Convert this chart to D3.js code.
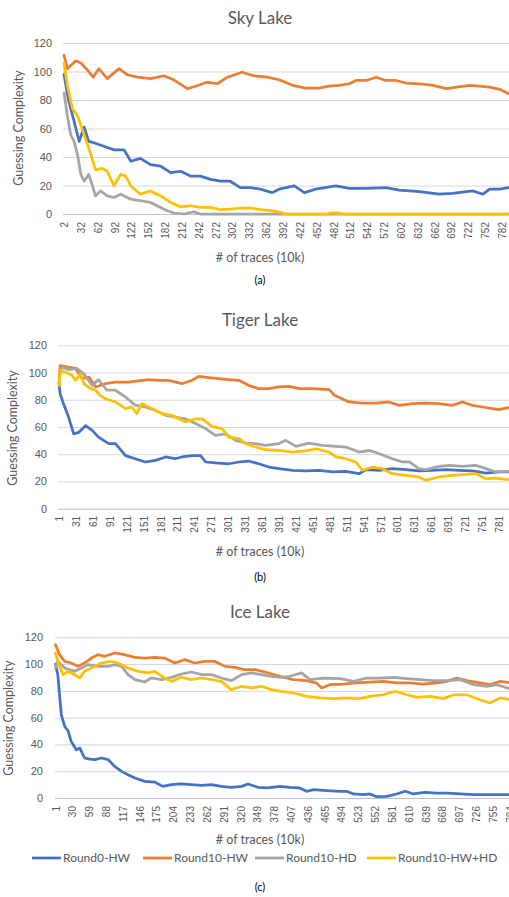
<!DOCTYPE html>
<html>
<head>
<meta charset="utf-8">
<script src="https://cdn.jsdelivr.net/npm/d3@7"></script>
<style>
  body { margin: 0; background: #fff; }
  svg { display: block; font-family: Lato, "Open Sans", sans-serif; }
</style>
</head>
<body>
<script>
// series names and colours
const seriesNames = ['Round0-HW', 'Round10-HW', 'Round10-HD', 'Round10-HW+HD'];
const seriesColors = ['#4472C4', '#ED7D31', '#A5A5A5', '#FFC000'];
const yTicks = [0, 20, 40, 60, 80, 100, 120];

// x tick labels (# of traces, 10k)
const skyTicks = d3.range(2, 783, 30);
const tigerTicks = d3.range(1, 782, 30);
const iceTicks = d3.range(1, 785, 29);

// Sky Lake: [trace, guessing complexity]
const skyRound0HW = [[2, 98], [10, 80], [20, 65], [29, 51], [38, 61], [46, 51], [55, 50], [73, 47.5], [91, 45], [109, 45], [121, 37], [138, 39], [156, 34.7], [174, 33.6], [192, 29], [210, 30], [227, 26.6], [245, 26.6], [263, 24.3], [281, 23], [298, 23], [316, 18.5], [334, 18.5], [352, 17.4], [373, 15], [385, 17.4], [412, 19.7], [430, 15], [450, 17.4], [486, 19.7], [510, 18], [540, 18], [575, 18.5], [599, 16.7], [635, 15.7], [670, 13.9], [694, 14.4], [730, 16.2], [748, 13.9], [760, 17.4], [778, 17.4], [793, 18.5]];
const skyRound10HW = [[2, 111.5], [8, 102], [23, 107.6], [32, 106], [44, 101], [54, 96], [64, 102], [79, 95], [100, 102], [115, 97.7], [133, 96], [156, 95], [180, 97], [198, 94], [222, 88], [239, 90], [257, 92.6], [275, 91.4], [293, 96], [319, 99.5], [340, 97], [364, 96], [385, 94.2], [409, 90.3], [432, 88.4], [456, 88.4], [474, 89.8], [492, 90.3], [510, 91.4], [522, 93.7], [540, 93.7], [558, 96], [575, 93.7], [593, 93.7], [611, 91.9], [635, 91.4], [659, 90.3], [683, 88], [701, 89], [725, 90.3], [742, 89.8], [760, 89], [778, 87.5], [793, 84.5]];
const skyRound10HD = [[2, 85], [8, 69], [14, 55.5], [20, 51], [26, 41.7], [32, 27.8], [38, 23], [46, 27.8], [52, 20.8], [58, 12.7], [67, 16.2], [79, 12.7], [91, 11.6], [103, 13.9], [121, 10.4], [138, 9.3], [156, 8.1], [174, 4.6], [186, 2.3], [198, 0.7], [216, 0], [233, 1.6], [245, 0], [793, 0]];
const skyRound10HWHD = [[2, 106], [8, 90], [17, 74], [26, 69], [38, 55.5], [50, 41.7], [58, 31], [70, 32], [79, 30], [91, 19.7], [103, 27.8], [112, 26.6], [121, 19.7], [138, 13.9], [156, 16.2], [174, 12.7], [192, 8.1], [210, 5], [227, 5.8], [245, 4.6], [263, 4.6], [281, 3], [298, 3.5], [316, 4.2], [334, 4.2], [352, 3], [370, 2.3], [388, 1.2], [396, 0], [470, 0], [478, 0.8], [490, 0.8], [498, 0], [793, 0]];

// Tiger Lake
const tigerRound0HW = [[1, 92], [3, 84.5], [9, 77], [18, 67.3], [27, 55], [36, 56], [48, 61], [60, 57.5], [71, 52.6], [89, 47.8], [101, 47.8], [119, 39], [136, 36.7], [154, 34.3], [172, 35.5], [190, 38], [207, 36.7], [219, 38], [237, 39], [252, 39], [261, 34.3], [278, 33.6], [302, 33], [320, 34.3], [337, 35], [355, 33], [373, 30.6], [391, 29.4], [415, 28.2], [438, 27.7], [462, 28.2], [486, 27], [509, 27.4], [533, 25.7], [545, 28.7], [569, 28.2], [592, 29.4], [616, 28.7], [639, 27.7], [663, 28.2], [687, 28.7], [710, 28.2], [734, 27.7], [758, 26.2], [781, 27], [797, 27]];
const tigerRound10HW = [[1, 91.8], [3, 105], [18, 104], [30, 103], [42, 95.5], [54, 96.7], [66, 89.4], [83, 91.8], [101, 93], [124, 93], [142, 93.8], [160, 94.8], [178, 94.3], [195, 94.3], [219, 91.8], [237, 94.3], [249, 97.2], [266, 96.3], [284, 95.5], [302, 94.8], [320, 94.3], [337, 90.6], [355, 88.2], [373, 88.2], [391, 89.4], [409, 89.9], [427, 88.2], [450, 88.2], [480, 87.4], [489, 83.3], [503, 80.8], [515, 78.4], [539, 77.6], [563, 77.6], [586, 78.4], [604, 75.9], [628, 77.1], [651, 77.6], [675, 77.1], [698, 75.9], [716, 78.4], [734, 75.9], [752, 74.7], [769, 73.5], [781, 72.7], [797, 74.2]];
const tigerRound10HD = [[1, 96.7], [6, 104], [18, 102], [33, 103], [45, 99], [60, 90.6], [71, 94.8], [86, 87], [101, 87], [119, 82], [136, 76], [154, 74.7], [172, 72.2], [190, 68.6], [207, 67.3], [225, 66], [243, 62.5], [261, 58.8], [278, 53.9], [296, 55], [314, 50.2], [332, 48.2], [349, 47.8], [367, 46.5], [391, 47.8], [403, 50.2], [421, 45.8], [444, 48.2], [468, 46.5], [492, 45.8], [509, 45.3], [533, 41.6], [551, 42.8], [569, 40.4], [592, 36.7], [610, 34.3], [622, 34.3], [639, 29.4], [651, 28.7], [675, 31.1], [693, 31.8], [716, 31.1], [740, 31.8], [758, 29.4], [775, 27], [797, 27.4]];
const tigerRound10HWHD = [[1, 90.6], [3, 101.6], [12, 100.4], [24, 98], [30, 94.3], [39, 99], [45, 91.8], [57, 88.2], [66, 87], [74, 83.3], [83, 80.8], [101, 78.4], [119, 73.5], [130, 74.7], [139, 69.8], [148, 77.1], [166, 73.5], [184, 69.8], [201, 68.6], [213, 66], [225, 63.7], [243, 66], [255, 66], [272, 60.5], [290, 58.8], [302, 52.6], [320, 51.4], [332, 47.8], [349, 45.3], [367, 43.4], [391, 42.9], [415, 41.6], [438, 42.4], [456, 44], [480, 41.6], [492, 38], [509, 36.7], [527, 34.3], [539, 28.2], [557, 30.6], [574, 29.4], [592, 25.7], [616, 24.5], [639, 23.3], [651, 20.8], [675, 23.3], [698, 24.5], [722, 25.2], [740, 25.7], [758, 22], [775, 22.5], [797, 21.3]];

// Ice Lake
const iceRound0HW = [[1, 100], [5, 92], [11, 62], [17, 53.5], [23, 49.8], [28, 42.3], [37, 36], [43, 37.3], [51, 29.9], [60, 29], [69, 28.6], [80, 29.9], [92, 28.6], [103, 23.6], [115, 19.9], [126, 17.4], [138, 14.9], [155, 12.4], [172, 11.9], [186, 8.7], [201, 10], [218, 10.5], [235, 10], [253, 9.5], [270, 10], [287, 8.7], [304, 8], [322, 8.7], [333, 10.5], [350, 8], [367, 7.5], [388, 8.7], [405, 8], [422, 7.5], [434, 5], [446, 6.2], [469, 5.5], [492, 5], [503, 5], [515, 3], [532, 2.5], [543, 3], [555, 1], [572, 1.2], [589, 3], [604, 5], [618, 3], [638, 4.2], [658, 3.7], [676, 3.7], [699, 3], [722, 2.5], [745, 2.5], [786, 2.5]];
const iceRound10HW = [[1, 114.5], [8, 107], [17, 102], [28, 100.8], [40, 98.3], [51, 100.8], [63, 104.5], [74, 107], [86, 105.8], [103, 108.3], [120, 107], [138, 105], [155, 104.5], [172, 105], [189, 104.5], [207, 100.8], [224, 103.3], [241, 100.8], [258, 102], [276, 102], [293, 98.3], [310, 97.6], [327, 95.8], [345, 95.8], [362, 94.1], [388, 90.9], [411, 88.4], [434, 87.6], [451, 85.9], [460, 82.2], [474, 84.6], [497, 85.1], [520, 85.9], [543, 86.6], [566, 87.1], [589, 85.9], [612, 85.9], [635, 85.1], [658, 85.9], [676, 87.1], [693, 89.6], [710, 87.6], [733, 85.9], [750, 84.6], [768, 87.1], [786, 85.9]];
const iceRound10HD = [[1, 97], [5, 102], [17, 97], [34, 94.6], [46, 97], [57, 99.6], [74, 98.3], [92, 98.3], [103, 99.6], [115, 98.3], [126, 92.1], [138, 88.4], [155, 86.6], [166, 89.6], [184, 88.4], [201, 90.1], [218, 92.6], [235, 94.1], [253, 92.1], [270, 92.1], [287, 89.6], [304, 87.6], [322, 92.1], [339, 93.4], [356, 92.1], [373, 90.9], [390, 90.1], [405, 90.9], [425, 93.4], [440, 88.4], [463, 89.6], [492, 89.1], [515, 87.1], [538, 89.6], [561, 89.6], [584, 90.1], [607, 89.1], [629, 88.4], [652, 87.6], [676, 87.6], [699, 88.4], [722, 84.6], [745, 83.4], [762, 84.6], [786, 81.4]];
const iceRound10HWHD = [[1, 108.3], [5, 102], [14, 92.1], [23, 94.6], [34, 92.1], [43, 89.6], [51, 94.6], [63, 97], [80, 100.8], [97, 102], [109, 100.8], [126, 97], [143, 94.6], [161, 93.4], [172, 94.6], [189, 89.6], [201, 87.1], [218, 90.1], [235, 88.4], [253, 89.6], [270, 88.4], [287, 87.1], [304, 80.9], [322, 83.4], [339, 82.2], [356, 83.4], [373, 80.9], [390, 79.7], [411, 78.4], [434, 75.9], [457, 74.7], [480, 74.2], [503, 74.7], [526, 74.2], [543, 75.9], [566, 77.1], [586, 79.7], [607, 77.1], [624, 75.2], [647, 75.9], [670, 74.2], [687, 77.1], [710, 77.1], [733, 73.4], [750, 70.9], [768, 74.7], [786, 73.4]];

const W = 509, H = 897;
const textColor = '#595959';

let svg = d3.select('body').append('svg')
  .attr('width', W)
  .attr('height', H);

// one panel per processor
function drawPanel(p) {
  let x = d3.scaleLinear().domain(p.xDomain).range(p.xRange);
  let y = d3.scaleLinear().domain([0, 120]).range([p.yBottom, p.yTop]);
  let g = svg.append('g');

  // title
  g.append('text')
    .attr('x', 260).attr('y', p.titleY)
    .attr('text-anchor', 'middle')
    .attr('font-size', '17px')
    .attr('fill', textColor)
    .text(p.title);

  // gridlines
  let grid = g.append('g')
    .attr('transform', `translate(${p.xLeft},0)`)
    .call(d3.axisLeft(y).tickValues(yTicks).tickSize(-(W - p.xLeft)).tickFormat(''));
  grid.select('.domain').remove();
  grid.selectAll('line').attr('stroke', p.gridColor).attr('stroke-width', 1);
  grid.selectAll('.tick').filter(d => d === 0).select('line').attr('stroke', p.zeroColor);

  // y axis labels
  let ya = g.append('g')
    .attr('transform', `translate(${p.xLeft},0)`)
    .call(d3.axisLeft(y).tickValues(yTicks).tickSize(0).tickPadding(p.xLeft - p.yTickX));
  ya.select('.domain').remove();
  ya.selectAll('text').attr('font-size', '11px').attr('fill', textColor).attr('font-family', null);

  // x axis labels, rotated
  let xa = g.append('g')
    .attr('transform', `translate(0,${p.yBottom})`)
    .call(d3.axisBottom(x).tickValues(p.ticks).tickSize(0));
  xa.select('.domain').remove();
  xa.selectAll('text')
    .attr('font-size', '10px')
    .attr('fill', textColor)
    .attr('font-family', null)
    .attr('transform', 'rotate(-90)')
    .attr('x', -(p.tickLabelY - p.yBottom))
    .attr('y', 0)
    .attr('dy', '0.35em')
    .attr('text-anchor', 'end');

  // axis titles
  g.append('text')
    .attr('transform', `translate(${p.yTitleX},${p.yTitleCY}) rotate(-90)`)
    .attr('text-anchor', 'middle')
    .attr('dy', '0.35em')
    .attr('font-size', '12.5px')
    .attr('fill', textColor)
    .text('Guessing Complexity');
  g.append('text')
    .attr('x', 260).attr('y', p.xTitleY)
    .attr('text-anchor', 'middle')
    .attr('font-size', '12.5px')
    .attr('fill', textColor)
    .text('# of traces (10k)');
  g.append('text')
    .attr('x', 260).attr('y', p.subY)
    .attr('text-anchor', 'middle')
    .attr('font-size', '11px')
    .attr('fill', '#000')
    .text(p.sub);

  // series lines
  let line = d3.line().x(d => x(d[0])).y(d => y(d[1]));
  g.selectAll('path.series')
    .data(p.series)
    .enter()
    .append('path')
    .attr('class', 'series')
    .attr('d', d => line(d))
    .attr('fill', 'none')
    .attr('stroke', (d, i) => seriesColors[i])
    .attr('stroke-width', 2.75)
    .attr('stroke-linejoin', 'round')
    .attr('stroke-linecap', 'round');
}

drawPanel({
  title: 'Sky Lake', sub: '(a)', titleY: 24, xTitleY: 262, subY: 284,
  yTop: 43, yBottom: 214, xLeft: 63, yTickX: 52, yTitleX: 19, yTitleCY: 128,
  xDomain: [2, 782], xRange: [64, 502], ticks: skyTicks, tickLabelY: 222,
  gridColor: '#d9d9d9', zeroColor: '#bfbfbf',
  series: [skyRound0HW, skyRound10HW, skyRound10HD, skyRound10HWHD]
});

drawPanel({
  title: 'Tiger Lake', sub: '(b)', titleY: 326, xTitleY: 556, subY: 581,
  yTop: 345.3, yBottom: 508.7, xLeft: 58, yTickX: 47, yTitleX: 13, yTitleCY: 428,
  xDomain: [1, 781], xRange: [59, 499], ticks: tigerTicks, tickLabelY: 516,
  gridColor: '#d9d9d9', zeroColor: '#bfbfbf',
  series: [tigerRound0HW, tigerRound10HW, tigerRound10HD, tigerRound10HWHD]
});

drawPanel({
  title: 'Ice Lake', sub: '(c)', titleY: 618, xTitleY: 844, subY: 891,
  yTop: 637.3, yBottom: 798, xLeft: 55, yTickX: 43, yTitleX: 9, yTitleCY: 718,
  xDomain: [1, 784], xRange: [55.5, 509.6], ticks: iceTicks, tickLabelY: 806,
  gridColor: '#cdd6e6', zeroColor: '#b4bfd3',
  series: [iceRound0HW, iceRound10HW, iceRound10HD, iceRound10HWHD]
});

// legend under the Ice Lake panel
const legendX = [32, 143, 255, 367];
let legend = svg.append('g').attr('transform', 'translate(0,858)');
let items = legend.selectAll('g')
  .data(seriesNames)
  .enter()
  .append('g')
  .attr('transform', (d, i) => `translate(${legendX[i]},0)`);
items.append('line')
  .attr('x1', 0).attr('x2', 29)
  .attr('stroke', (d, i) => seriesColors[i])
  .attr('stroke-width', 2.75);
items.append('text')
  .attr('x', 31)
  .attr('dy', '0.35em')
  .attr('font-size', '12px')
  .attr('fill', textColor)
  .text(d => d);
</script>
</body>
</html>
